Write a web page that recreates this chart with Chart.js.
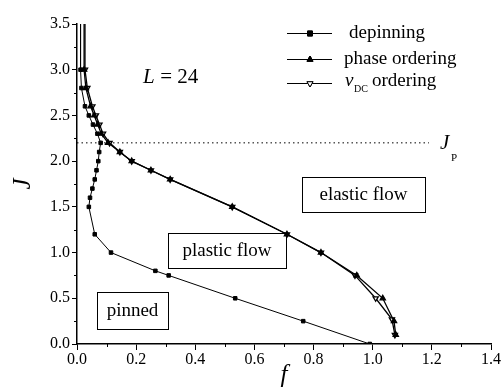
<!DOCTYPE html>
<html>
<head>
<meta charset="utf-8">
<script src="https://cdn.jsdelivr.net/npm/chart.js@4/dist/chart.umd.min.js"></script>
<style>
  body { margin: 0; background: #fff; }
  #wrap { width: 501px; height: 390px; }
</style>
</head>
<body>
<div id="wrap"><canvas id="phaseChart" width="501" height="390"></canvas></div>
<script>
// depinning curve (filled squares)
const depinF = [0.012, 0.012, 0.015, 0.027, 0.04, 0.054, 0.069, 0.08, 0.075, 0.072, 0.066, 0.06, 0.052, 0.044, 0.04, 0.06, 0.115, 0.265, 0.31, 0.535, 0.765, 0.99];
const depinJ = [3.6, 3.0, 2.8, 2.6, 2.5, 2.4, 2.3, 2.2, 2.1, 2.0, 1.9, 1.8, 1.7, 1.6, 1.5, 1.2, 1.0, 0.8, 0.75, 0.5, 0.25, 0.0];

// phase ordering (filled up triangles)
const phaseF = [0.024, 0.024, 0.03, 0.046, 0.058, 0.07, 0.082, 0.105, 0.145, 0.185, 0.25, 0.315, 0.525, 0.71, 0.825, 0.946, 1.034, 1.072, 1.078];
const phaseJ = [3.6, 3.0, 2.8, 2.6, 2.5, 2.4, 2.3, 2.2, 2.1, 2.0, 1.9, 1.8, 1.5, 1.2, 1.0, 0.75, 0.5, 0.25, 0.1];

// v_DC ordering (open down triangles)
const vdcF = [0.027, 0.027, 0.035, 0.052, 0.064, 0.076, 0.088, 0.11, 0.145, 0.185, 0.25, 0.315, 0.525, 0.71, 0.825, 0.94, 1.01, 1.065, 1.075];
const vdcJ = [3.6, 3.0, 2.8, 2.6, 2.5, 2.4, 2.3, 2.2, 2.1, 2.0, 1.9, 1.8, 1.5, 1.2, 1.0, 0.75, 0.5, 0.27, 0.1];

// J_p dotted level
const jpF = [0.0, 1.19];
const jpJ = [2.2, 2.2];

const xTicks = [0.0, 0.2, 0.4, 0.6, 0.8, 1.0, 1.2, 1.4];
const yTicks = [0.0, 0.5, 1.0, 1.5, 2.0, 2.5, 3.0, 3.5];

const toPoints = (xs, ys) => xs.map((x, i) => ({ x: x, y: ys[i] }));

const serif = "'Liberation Serif'";

// labels, boxes, legend, minor ticks
const annotate = {
    id: 'annotate',
    afterDraw(chart) {
        const ctx = chart.ctx;
        const xs = chart.scales.x, ys = chart.scales.y;
        const area = chart.chartArea;
        ctx.save();
        ctx.strokeStyle = '#000';
        ctx.fillStyle = '#000';
        ctx.lineWidth = 1;

        // minor ticks
        for (let v = 0.1; v < 1.4; v += 0.2) {
            const px = Math.round(xs.getPixelForValue(v)) + 0.5;
            ctx.beginPath();
            ctx.moveTo(px, area.bottom);
            ctx.lineTo(px, area.bottom + 3);
            ctx.stroke();
        }
        for (let v = 0.25; v < 3.5; v += 0.5) {
            const py = Math.round(ys.getPixelForValue(v)) + 0.5;
            ctx.beginPath();
            ctx.moveTo(area.left, py);
            ctx.lineTo(area.left - 3, py);
            ctx.stroke();
        }

        // L = 24
        ctx.textBaseline = 'middle';
        ctx.textAlign = 'left';
        ctx.font = 'italic 21px ' + serif;
        ctx.fillText('L', 143, 77);
        ctx.font = '21px ' + serif;
        ctx.fillText(' = 24', 155, 77);

        // J_p
        ctx.font = 'italic 21px ' + serif;
        ctx.fillText('J', 440, 143);
        ctx.font = '11px ' + serif;
        ctx.fillText('P', 451, 158);

        // region boxes
        const boxes = [
            ['elastic flow', 302, 177, 123, 35],
            ['plastic flow', 168, 233, 118, 35],
            ['pinned', 97, 292, 71, 37]
        ];
        ctx.font = '19px ' + serif;
        ctx.textAlign = 'center';
        boxes.forEach(([txt, x, y, w, h]) => {
            ctx.strokeRect(x + 0.5, y + 0.5, w, h);
            ctx.fillText(txt, x + w / 2, y + h / 2 + 1);
        });

        // legend
        const rows = [
            { y: 33, style: 'rect', fill: '#000', rot: 0 },
            { y: 59, style: 'triangle', fill: '#000', rot: 0 },
            { y: 83, style: 'triangle', fill: '#fff', rot: 180 }
        ];
        rows.forEach(r => {
            ctx.beginPath();
            ctx.moveTo(287, r.y + 0.5);
            ctx.lineTo(332, r.y + 0.5);
            ctx.stroke();
            ctx.fillStyle = r.fill;
            Chart.helpers.drawPoint(ctx, { pointStyle: r.style, radius: 3.5, rotation: r.rot, borderWidth: 1 }, 310, r.y + 0.5);
            ctx.fill();
            ctx.stroke();
        });
        ctx.fillStyle = '#000';
        ctx.textAlign = 'left';
        ctx.font = '19px ' + serif;
        ctx.fillText('depinning', 349, 33);
        ctx.fillText('phase ordering', 344, 59);
        ctx.font = 'italic 19px ' + serif;
        ctx.fillText('v', 345, 81);
        ctx.font = '10px ' + serif;
        ctx.fillText('DC', 354, 89);
        ctx.font = '19px ' + serif;
        ctx.fillText('ordering', 372, 81);

        ctx.restore();
    }
};

function drawChart() {
    const chart = new Chart(document.getElementById('phaseChart'), {
        type: 'line',
        data: {
            datasets: [
                {
                    label: 'J_p',
                    data: toPoints(jpF, jpJ),
                    borderColor: '#000',
                    borderWidth: 1,
                    borderDash: [1.5, 3],
                    pointRadius: 0
                },
                {
                    label: 'depinning',
                    data: toPoints(depinF, depinJ),
                    borderColor: '#000',
                    backgroundColor: '#000',
                    borderWidth: 1,
                    pointStyle: 'rect',
                    pointRadius: 2.5
                },
                {
                    label: 'phase ordering',
                    data: toPoints(phaseF, phaseJ),
                    borderColor: '#000',
                    backgroundColor: '#000',
                    borderWidth: 1.3,
                    pointStyle: 'triangle',
                    pointRadius: 3
                },
                {
                    label: 'vDC ordering',
                    data: toPoints(vdcF, vdcJ),
                    borderColor: '#000',
                    backgroundColor: '#fff',
                    borderWidth: 1.3,
                    pointStyle: 'triangle',
                    pointRotation: 180,
                    pointRadius: 3
                }
            ]
        },
        options: {
            responsive: false,
            animation: false,
            events: [],
            layout: { padding: { left: 8, right: 9, top: 24, bottom: 0 } },
            plugins: {
                legend: { display: false },
                tooltip: { enabled: false }
            },
            scales: {
                x: {
                    type: 'linear',
                    min: 0,
                    max: 1.4,
                    afterFit: s => { s.height = 46; },
                    afterBuildTicks: s => { s.ticks = xTicks.map(v => ({ value: v })); },
                    grid: { drawOnChartArea: false, color: '#000', tickLength: 6 },
                    border: { color: '#000', width: 1.5 },
                    ticks: {
                        color: '#000',
                        padding: 0,
                        maxRotation: 0,
                        font: { family: serif, size: 16 },
                        callback: v => v.toFixed(1)
                    },
                    title: {
                        display: true,
                        text: 'f',
                        color: '#000',
                        padding: { top: -6, bottom: 0 },
                        font: { family: serif, size: 25, style: 'italic' }
                    }
                },
                y: {
                    type: 'linear',
                    min: 0,
                    max: 3.5,
                    afterFit: s => { s.width = 69; },
                    afterBuildTicks: s => { s.ticks = yTicks.map(v => ({ value: v })); },
                    grid: { drawOnChartArea: false, color: '#000', tickLength: 5 },
                    border: { color: '#000', width: 1.5 },
                    ticks: {
                        color: '#000',
                        padding: 2,
                        font: { family: serif, size: 16 },
                        callback: v => v.toFixed(1)
                    },
                    title: {
                        display: true,
                        text: 'J',
                        color: '#000',
                        padding: { top: 0, bottom: 0 },
                        font: { family: serif, size: 25, style: 'italic' }
                    }
                }
            }
        },
        plugins: [annotate]
    });
    // redraw once more in case the fonts were not ready on the first pass
    setTimeout(() => chart.render(), 400);
}

// make sure the serif faces are loaded before the canvas uses them
Promise.all([
    document.fonts.load("16px 'Liberation Serif'"),
    document.fonts.load("italic 21px 'Liberation Serif'")
]).catch(() => {}).then(() => setTimeout(drawChart, 50));
</script>
</body>
</html>
